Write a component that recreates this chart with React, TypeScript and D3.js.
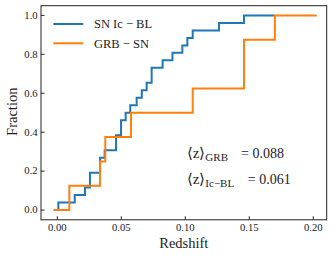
import * as d3 from "d3";

// sorted redshifts
const icblRedshifts = [
  0.0008, 0.0136, 0.0216, 0.0255, 0.0255, 0.0334, 0.0334, 0.037, 0.0459, 0.0459,
  0.0498, 0.0498, 0.0534, 0.057, 0.062, 0.066, 0.0698, 0.0737, 0.0737, 0.0823,
  0.09, 0.0977, 0.1016, 0.1058, 0.1263, 0.1459,
];
const grbRedshifts = [0.0094, 0.0334, 0.0375, 0.0576, 0.1058, 0.1459, 0.1459, 0.17];
// where each step curve starts and stops
const icblRange = [0.0008, 0.17];
const grbRange = [-0.003, 0.2027];

const xTicks = [0, 0.05, 0.1, 0.15, 0.2];
const yTicks = [0, 0.2, 0.4, 0.6, 0.8, 1.0];
const seriesNames = ["SN Ic − BL", "GRB − SN"];
const meanLabels = ["GRB", "Ic−BL"];
const meanValues = ["0.088", "0.061"];

const W = 335;
const H = 257;
const left = 41, right = 326.7, top = 5.7, bottom = 219.8;
const serif = { fontFamily: "Liberation Serif" };
const blue = "#1f77b4";
const orange = "#ff7f0e";

const x = d3.scaleLinear().domain([-0.01275, 0.2105]).range([left, right]);
const y = d3.scaleLinear().domain([-0.05, 1.05]).range([bottom, top]);

const stepLine = d3
  .line<[number, number]>()
  .x((d) => x(d[0]))
  .y((d) => y(d[1]))
  .curve(d3.curveStepAfter);

function cdfPoints(z: number[], range: number[]): [number, number][] {
  const n = z.length;
  const pts: [number, number][] = [[range[0], 0]];
  z.forEach((v, i) => pts.push([v, (i + 1) / n]));
  pts.push([range[1], 1]);
  return pts;
}

export default function App() {
  const series = [
    { pts: cdfPoints(icblRedshifts, icblRange), color: blue },
    { pts: cdfPoints(grbRedshifts, grbRange), color: orange },
  ];
  return (
    <svg
      width={W}
      height={H}
      style={{ position: "absolute", left: 0, top: 0, background: "#fff" }}
    >
      {series.map((s, i) => (
        <path key={i} d={stepLine(s.pts) || ""} fill="none" stroke={s.color} strokeWidth={2} />
      ))}

      {/* spines */}
      <rect x={left} y={top} width={right - left} height={bottom - top} fill="none" stroke="#222" strokeWidth={1} />

      {/* ticks, pointing inward */}
      {xTicks.map((t) => (
        <g key={"x" + t}>
          <line x1={x(t)} x2={x(t)} y1={bottom} y2={bottom - 3.5} stroke="#222" />
          <text x={x(t)} y={231.2} textAnchor="middle" fontSize={10.7} fill="#222" style={serif}>
            {t.toFixed(2)}
          </text>
        </g>
      ))}
      {yTicks.map((t) => (
        <g key={"y" + t}>
          <line x1={left} x2={left + 3.5} y1={y(t)} y2={y(t)} stroke="#222" />
          <text x={37.7} y={y(t) + 3.3} textAnchor="end" fontSize={10.7} fill="#222" style={serif}>
            {t.toFixed(1)}
          </text>
        </g>
      ))}

      <text x={(left + right) / 2} y={248} textAnchor="middle" fontSize={14.5} fill="#222" style={serif}>
        Redshift
      </text>
      <text
        transform={`translate(17,${(top + bottom) / 2 - 1}) rotate(-90)`}
        textAnchor="middle"
        fontSize={14.5}
        fill="#222"
        style={serif}
      >
        Fraction
      </text>

      {/* legend */}
      {seriesNames.map((name, i) => (
        <g key={name}>
          <line x1={53.3} x2={83.3} y1={24 + i * 19.3} y2={24 + i * 19.3} stroke={i ? orange : blue} strokeWidth={2} />
          <text x={94} y={28.3 + i * 19.3} fontSize={12.5} fill="#222" style={serif}>
            {name}
          </text>
        </g>
      ))}

      {/* mean redshift annotation */}
      {meanLabels.map((lab, i) => (
        <g key={lab}>
          <text x={186.7} y={157.7 + i * 26.3} fontSize={15} fill="#222" style={serif}>
            ⟨z⟩
            <tspan fontSize={11} dy={3.2}>{lab}</tspan>
          </text>
          <text x={i ? 290.7 : 284} y={157.7 + i * 26.3} fontSize={14} textAnchor="end" fill="#222" style={serif}>
            {"= " + meanValues[i]}
          </text>
        </g>
      ))}
    </svg>
  );
}
